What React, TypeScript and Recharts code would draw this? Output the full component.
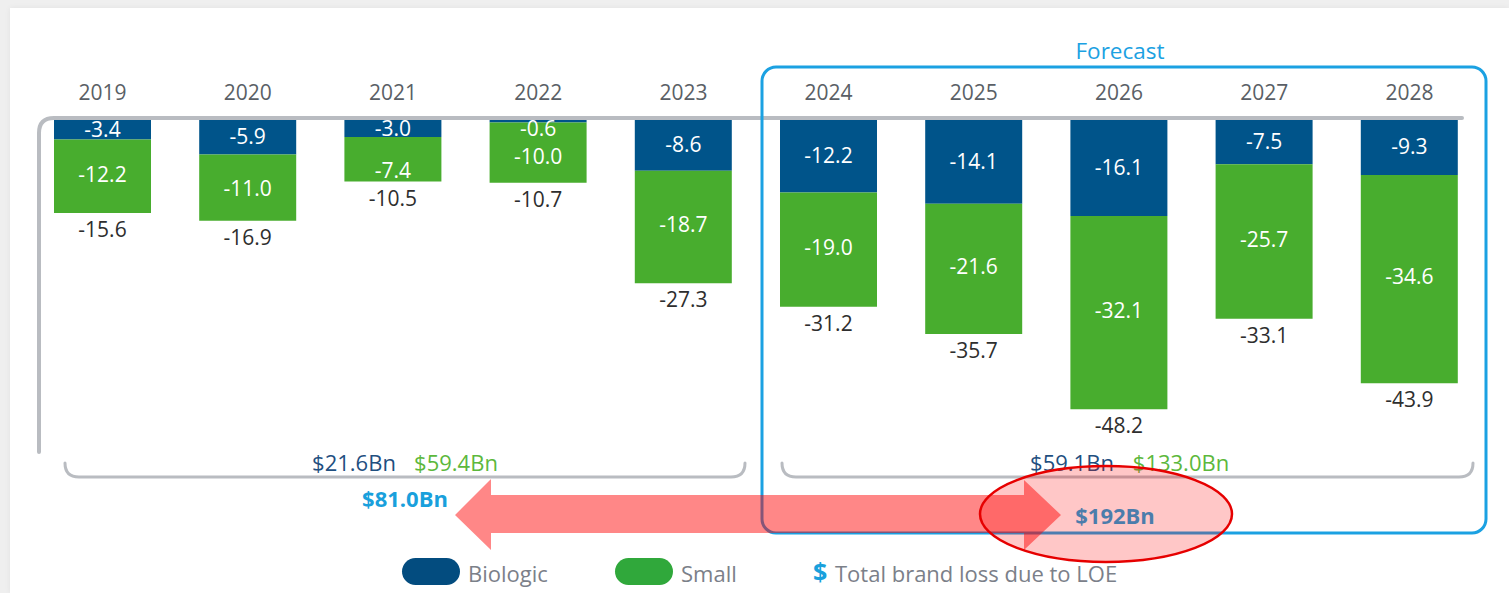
import React from 'react';
import { BarChart, Bar, XAxis, YAxis, LabelList } from 'recharts';

const years = ['2019', '2020', '2021', '2022', '2023', '2024', '2025', '2026', '2027', '2028'];
const biologic = [-3.4, -5.9, -3.0, -0.6, -8.6, -12.2, -14.1, -16.1, -7.5, -9.3];
const small = [-12.2, -11.0, -7.4, -10.0, -18.7, -19.0, -21.6, -32.1, -25.7, -34.6];
const totals = [-15.6, -16.9, -10.5, -10.7, -27.3, -31.2, -35.7, -48.2, -33.1, -43.9];

const data = years.map((year, i) => ({
  year,
  biologic: biologic[i],
  small: small[i],
  total: totals[i],
}));

const BLUE = '#00548a';
const GREEN = '#48ad2e';
const GRAY_LINE = '#b9bcc1';
const SKY = '#19a0dc';
const FONT = '"Open Sans", "Noto Sans", sans-serif';

const YearTick = (props: any) => {
  const { x, payload } = props;
  return (
    <text x={x} y={100} textAnchor="middle" fill="#5a5f66" fontSize={21} fontFamily={FONT}>
      {payload.value}
    </text>
  );
};

const fmt = (v: number) => v.toFixed(1);

const BioLabel = (props: any) => {
  const { x, y, width, height, value } = props;
  const top = Math.min(y, y + height);
  const h = Math.abs(height);
  const cy = Math.max(top + h / 2, top + 10);
  return (
    <text x={x + width / 2} y={cy} dy="0.35em" textAnchor="middle" fill="#fff" fontSize={21} fontFamily={FONT}>
      {fmt(value)}
    </text>
  );
};

const SmallLabel = (props: any) => {
  const { x, y, width, height, value } = props;
  const top = Math.min(y, y + height);
  const h = Math.abs(height);
  // keep clear of the biologic label when that segment is thin
  const cy = Math.max(top + h / 2 - 2, top + 34);
  return (
    <text x={x + width / 2} y={cy} dy="0.35em" textAnchor="middle" fill="#fff" fontSize={21} fontFamily={FONT}>
      {fmt(value)}
    </text>
  );
};

const TotalLabel = (props: any) => {
  const { x, y, width, height, value } = props;
  const bottom = Math.max(y, y + height);
  return (
    <text x={x + width / 2} y={bottom + 24} textAnchor="middle" fill="#2e2e2e" fontSize={21} fontFamily={FONT}>
      {fmt(value)}
    </text>
  );
};

export default function App() {
  return (
    <div style={{ position: 'absolute', left: 0, top: 0, width: 1509, height: 593, background: '#efefef', overflow: 'hidden' }}>
      <div style={{ position: 'absolute', left: 10, top: 8, width: 1499, height: 585, background: '#fff', boxShadow: '0 0 6px rgba(0,0,0,0.06)' }} />
      <div style={{ position: 'absolute', left: 0, top: 0 }}>
        <BarChart width={1509} height={593} data={data} margin={{ top: 89, right: 27, bottom: 161, left: 30 }} barSize={97}>
          <XAxis dataKey="year" orientation="top" axisLine={false} tickLine={false} height={30} tick={<YearTick />} interval={0} />
          <YAxis hide domain={[-52, 0]} />
          <Bar dataKey="biologic" stackId="a" fill={BLUE} isAnimationActive={false}>
            <LabelList dataKey="biologic" content={<BioLabel />} />
          </Bar>
          <Bar dataKey="small" stackId="a" fill={GREEN} isAnimationActive={false}>
            <LabelList dataKey="small" content={<SmallLabel />} />
            <LabelList dataKey="total" content={<TotalLabel />} />
          </Bar>
        </BarChart>
      </div>
      <svg width={1509} height={593} style={{ position: 'absolute', left: 0, top: 0, pointerEvents: 'none' }} fontFamily={FONT}>
        {/* historic bracket */}
        <path d="M 39 452 L 39 133 Q 39 118 54 118 L 1462 118" fill="none" stroke={GRAY_LINE} strokeWidth={4} strokeLinecap="round" />
        {/* bottom braces */}
        <path d="M 65 463 Q 65 477 79 477 L 731 477 Q 745 477 745 463" fill="none" stroke={GRAY_LINE} strokeWidth={3} strokeLinecap="round" />
        <path d="M 782 463 Q 782 477 796 477 L 1459 477 Q 1473 477 1473 463" fill="none" stroke={GRAY_LINE} strokeWidth={3} strokeLinecap="round" />
        {/* forecast box */}
        <rect x={762} y={67} width={724} height={466} rx={14} fill="none" stroke="#1ba1e2" strokeWidth={3} />
        <text x={1120} y={51} dy="0.35em" textAnchor="middle" fill="#1ba1e2" fontSize={22.5}>Forecast</text>
        {/* period totals */}
        <text x={354} y={463} dy="0.35em" textAnchor="middle" fill="#1f4f7f" fontSize={22}>$21.6Bn</text>
        <text x={456} y={463} dy="0.35em" textAnchor="middle" fill="#5cb83c" fontSize={22}>$59.4Bn</text>
        <text x={1072} y={463} dy="0.35em" textAnchor="middle" fill="#1f4f7f" fontSize={22}>$59.1Bn</text>
        <text x={1181} y={463} dy="0.35em" textAnchor="middle" fill="#5cb83c" fontSize={22}>$133.0Bn</text>
        <text x={405} y={499} dy="0.35em" textAnchor="middle" fill={SKY} fontSize={22} fontWeight="bold">$81.0Bn</text>
        <text x={1115} y={516} dy="0.35em" textAnchor="middle" fill={SKY} fontSize={22} fontWeight="bold">$192Bn</text>
        {/* arrow */}
        <polygon
          points="455,515 491,479 491,495 1024,495 1024,480 1061,515 1024,550 1024,533 491,533 491,550"
          fill="rgba(255,0,0,0.47)"
        />
        <ellipse cx={1106} cy={514} rx={126} ry={48} fill="rgba(255,0,0,0.22)" stroke="#e60000" strokeWidth={2.5} />
        {/* legend */}
        <rect x={402} y={558} width={58} height={27} rx={13.5} fill="#034c7f" />
        <text x={468} y={574} dy="0.35em" fill="#7b8089" fontSize={22}>Biologic</text>
        <rect x={615} y={558} width={58} height={27} rx={13.5} fill="#30a83b" />
        <text x={681} y={574} dy="0.35em" fill="#7b8089" fontSize={22}>Small</text>
        <text x={813} y={572} dy="0.35em" fill={SKY} fontSize={25} fontWeight="bold">$</text>
        <text x={835} y={574} dy="0.35em" fill="#7b8089" fontSize={22}>Total brand loss due to LOE</text>
      </svg>
    </div>
  );
}
